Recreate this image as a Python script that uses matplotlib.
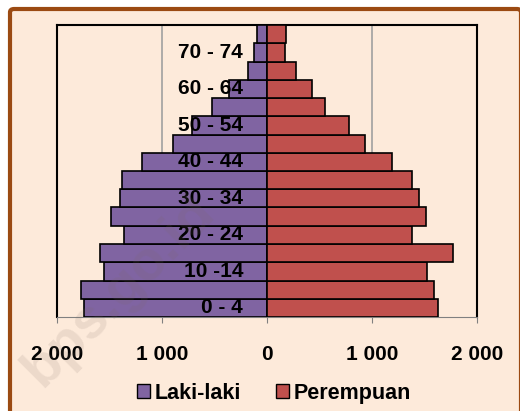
import numpy as np
import matplotlib
matplotlib.use("Agg")
import matplotlib.pyplot as plt
from matplotlib.patches import Patch, FancyBboxPatch
from matplotlib.transforms import offset_copy

# age groups, bottom to top
age_groups = ['0 - 4', '5 - 9', '10 -14', '15 - 19', '20 - 24', '25 - 29', '30 - 34', '35 - 39',
              '40 - 44', '45 - 49', '50 - 54', '55 - 59', '60 - 64', '65 - 69', '70 - 74', '75+']
laki_laki = [1740, 1775, 1549, 1587, 1365, 1489, 1400, 1378, 1194, 892, 718, 521, 362, 185, 127, 95]
perempuan = [1632, 1587, 1524, 1771, 1377, 1514, 1444, 1384, 1193, 933, 781, 552, 431, 273, 174, 181]
shown_labels = ['0 - 4', '10 -14', '20 - 24', '30 - 34', '40 - 44', '50 - 54', '60 - 64', '70 - 74']
x_ticks = [-2000, -1000, 0, 1000, 2000]
x_tick_labels = ['2 000', '1 000', '0', '1 000', '2 000']

bg = '#FDEADA'
purple = '#8064A2'
red = '#C0504D'

plt.rcParams['font.family'] = ['Liberation Sans', 'DejaVu Sans']
plt.rcParams['font.weight'] = 'bold'

fig = plt.figure(figsize=(5.2, 4.11), dpi=100)
fig.patch.set_facecolor('white')

# rounded brown frame (runs off the right and bottom edges)
frame = FancyBboxPatch((10 / 520, -0.05), 511 / 520, 1 - 9 / 411 + 0.05,
                       boxstyle='round,pad=0,rounding_size=0.008',
                       transform=fig.transFigure, facecolor=bg, edgecolor='#9B4A12',
                       linewidth=3, zorder=0)
fig.add_artist(frame)

ax = fig.add_axes([57 / 520, 1 - 317 / 411, 420 / 520, 292 / 411])
ax.set_facecolor(bg)

y = np.arange(len(age_groups))
ax.barh(y, -np.array(laki_laki), height=1.0, color=purple, edgecolor='black', linewidth=1.2, zorder=3)
ax.barh(y, perempuan, height=1.0, color=red, edgecolor='black', linewidth=1.2, zorder=3)

for gx in [-1000, 1000]:
    ax.axvline(gx, color='#A0A0A0', linewidth=1.2, zorder=1)

ax.set_xlim(-2000, 2000)
ax.set_ylim(-0.5, len(age_groups) - 0.5)
ax.set_xticks(x_ticks)
ax.set_xticklabels(x_tick_labels, fontsize=15, fontweight='bold')
ax.tick_params(axis='x', direction='out', length=4, color='#808080', pad=16)
ax.set_yticks([])

lab_tr = offset_copy(ax.transData, fig=fig, x=-24, y=0, units='dots')
for lab in shown_labels:
    i = age_groups.index(lab)
    ax.text(0, i, lab, transform=lab_tr, ha='right', va='center',
            fontsize=15, fontweight='bold', zorder=5)

for s in ['top', 'left', 'right']:
    ax.spines[s].set_color('black')
    ax.spines[s].set_linewidth(1.5)
ax.spines['bottom'].set_color('#808080')

# watermark
fig.text(0.23, 0.29, 'bps.go.id', rotation=45, fontsize=40, fontweight='bold',
         color='#7a6a60', alpha=0.13, ha='center', va='center', zorder=10)

handles = [Patch(facecolor=purple, edgecolor='black', label='Laki-laki'),
           Patch(facecolor=red, edgecolor='black', label='Perempuan')]
fig.legend(handles=handles, loc='center', bbox_to_anchor=(0.527, 1 - 393 / 411), ncol=2,
           frameon=False, handlelength=0.6, handleheight=0.6,
           handletextpad=0.25, columnspacing=1.6, prop={'weight': 'bold', 'size': 15.5})

fig.savefig('out.png', dpi=100, facecolor='white')
